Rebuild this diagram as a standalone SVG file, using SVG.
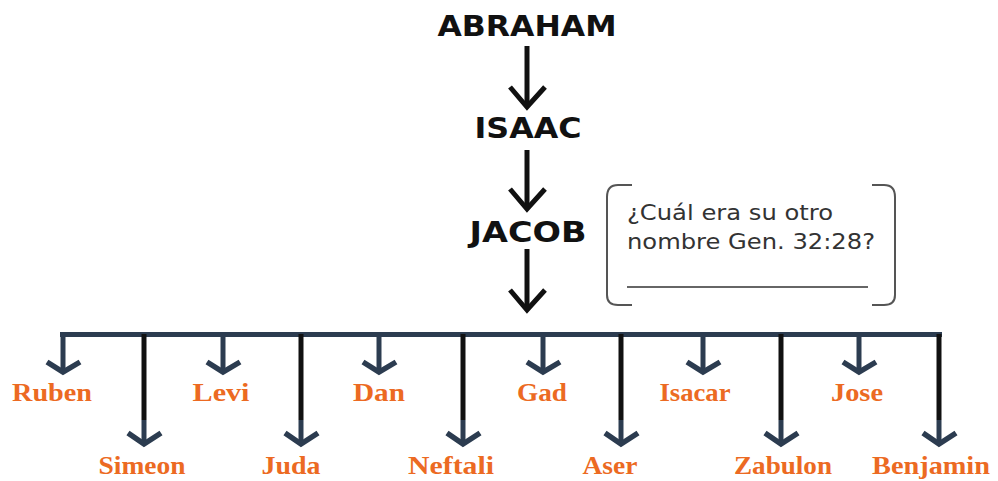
<svg xmlns="http://www.w3.org/2000/svg" width="998" height="481" viewBox="0 0 998 481">
<style>
.main{font-family:"DejaVu Sans","Verdana",sans-serif;font-weight:bold;font-size:29px;fill:#111;text-anchor:middle}
.note{font-family:"DejaVu Sans","Verdana",sans-serif;font-size:21px;fill:#333}
.tribe{font-family:"Liberation Serif","Times New Roman",serif;font-weight:bold;font-size:25px;fill:#ec6a22;text-anchor:middle}
.blk{stroke:#111;stroke-width:5;fill:none}
.slate{stroke:#2c3c50;stroke-width:5;fill:none}
.chev{stroke:#2c3c50;stroke-width:5.5;fill:none;stroke-linejoin:miter}
.bchev{stroke:#111;stroke-width:5;fill:none}
.brk{stroke:#555;stroke-width:2;fill:none}
</style>
<rect width="998" height="481" fill="#fff"/>
<g id="abraham"><text class="main" x="527" y="36" textLength="179" lengthAdjust="spacingAndGlyphs">ABRAHAM</text></g>
<g id="isaac"><text class="main" x="528" y="138" textLength="107" lengthAdjust="spacingAndGlyphs">ISAAC</text></g>
<g id="jacob"><text class="main" x="528" y="242" textLength="117" lengthAdjust="spacingAndGlyphs">JACOB</text></g>
<g id="note">
<path class="brk" d="M632,185 L618,185 Q607,185 607,197 L607,295 Q607,305 618,305 L632,305"/>
<path class="brk" d="M872,185 L884,185 Q895,185 895,197 L895,295 Q895,305 884,305 L872,305"/>
<text class="note" x="627" y="220" textLength="206" lengthAdjust="spacingAndGlyphs">¿Cuál era su otro</text>
<text class="note" x="627" y="249" textLength="248" lengthAdjust="spacingAndGlyphs">nombre Gen. 32:28?</text>
<line x1="627" y1="287" x2="868" y2="287" stroke="#333" stroke-width="1.5"/>
</g>
<g id="connectors">
<line class="blk" x1="527" y1="46" x2="527" y2="106"/>
<path class="bchev" d="M510,87 L527,107 L545,87"/>
<line class="blk" x1="527" y1="150" x2="527" y2="208"/>
<path class="bchev" d="M510,189 L527,209 L545,189"/>
<line class="blk" x1="527" y1="249" x2="527" y2="309"/>
<path class="bchev" d="M510,290 L527,310 L545,290"/>
<line x1="60" y1="334.5" x2="942" y2="334.5" stroke="#2c3c50" stroke-width="5"/>
<g>
<line class="slate" x1="63" y1="334" x2="63" y2="371"/><path class="chev" d="M47,362 L63,372 L80,362"/>
<line class="slate" x1="223" y1="334" x2="223" y2="371"/><path class="chev" d="M207,362 L223,372 L240,362"/>
<line class="slate" x1="379" y1="334" x2="379" y2="371"/><path class="chev" d="M363,362 L379,372 L396,362"/>
<line class="slate" x1="543" y1="334" x2="543" y2="371"/><path class="chev" d="M527,362 L543,372 L560,362"/>
<line class="slate" x1="703" y1="334" x2="703" y2="371"/><path class="chev" d="M687,362 L703,372 L720,362"/>
<line class="slate" x1="859" y1="334" x2="859" y2="371"/><path class="chev" d="M843,362 L859,372 L876,362"/>
</g>
<g>
<line class="blk" x1="144" y1="334" x2="144" y2="420"/><line class="slate" x1="144" y1="420" x2="144" y2="443"/><path class="chev" d="M128,433 L144,444 L161,433"/>
<line class="blk" x1="301" y1="334" x2="301" y2="420"/><line class="slate" x1="301" y1="420" x2="301" y2="443"/><path class="chev" d="M285,433 L301,444 L318,433"/>
<line class="blk" x1="463" y1="334" x2="463" y2="420"/><line class="slate" x1="463" y1="420" x2="463" y2="443"/><path class="chev" d="M447,433 L463,444 L480,433"/>
<line class="blk" x1="621" y1="334" x2="621" y2="420"/><line class="slate" x1="621" y1="420" x2="621" y2="443"/><path class="chev" d="M605,433 L621,444 L638,433"/>
<line class="blk" x1="781" y1="334" x2="781" y2="420"/><line class="slate" x1="781" y1="420" x2="781" y2="443"/><path class="chev" d="M765,433 L781,444 L798,433"/>
<line class="blk" x1="939" y1="334" x2="939" y2="420"/><line class="slate" x1="939" y1="420" x2="939" y2="443"/><path class="chev" d="M923,433 L939,444 L956,433"/>
</g>
</g>
<g id="ruben"><text class="tribe" x="52" y="401" textLength="80" lengthAdjust="spacingAndGlyphs">Ruben</text></g>
<g id="simeon"><text class="tribe" x="142" y="474" textLength="87" lengthAdjust="spacingAndGlyphs">Simeon</text></g>
<g id="levi"><text class="tribe" x="221" y="401" textLength="57" lengthAdjust="spacingAndGlyphs">Levi</text></g>
<g id="juda"><text class="tribe" x="291" y="474" textLength="59" lengthAdjust="spacingAndGlyphs">Juda</text></g>
<g id="dan"><text class="tribe" x="379" y="401" textLength="52" lengthAdjust="spacingAndGlyphs">Dan</text></g>
<g id="neftali"><text class="tribe" x="451" y="474" textLength="86" lengthAdjust="spacingAndGlyphs">Neftali</text></g>
<g id="gad"><text class="tribe" x="542" y="401" textLength="50" lengthAdjust="spacingAndGlyphs">Gad</text></g>
<g id="aser"><text class="tribe" x="610" y="474" textLength="55" lengthAdjust="spacingAndGlyphs">Aser</text></g>
<g id="isacar"><text class="tribe" x="695" y="401" textLength="71" lengthAdjust="spacingAndGlyphs">Isacar</text></g>
<g id="zabulon"><text class="tribe" x="783" y="474" textLength="98" lengthAdjust="spacingAndGlyphs">Zabulon</text></g>
<g id="jose"><text class="tribe" x="857" y="401" textLength="52" lengthAdjust="spacingAndGlyphs">Jose</text></g>
<g id="benjamin"><text class="tribe" x="931" y="474" textLength="118" lengthAdjust="spacingAndGlyphs">Benjamin</text></g>
</svg>
